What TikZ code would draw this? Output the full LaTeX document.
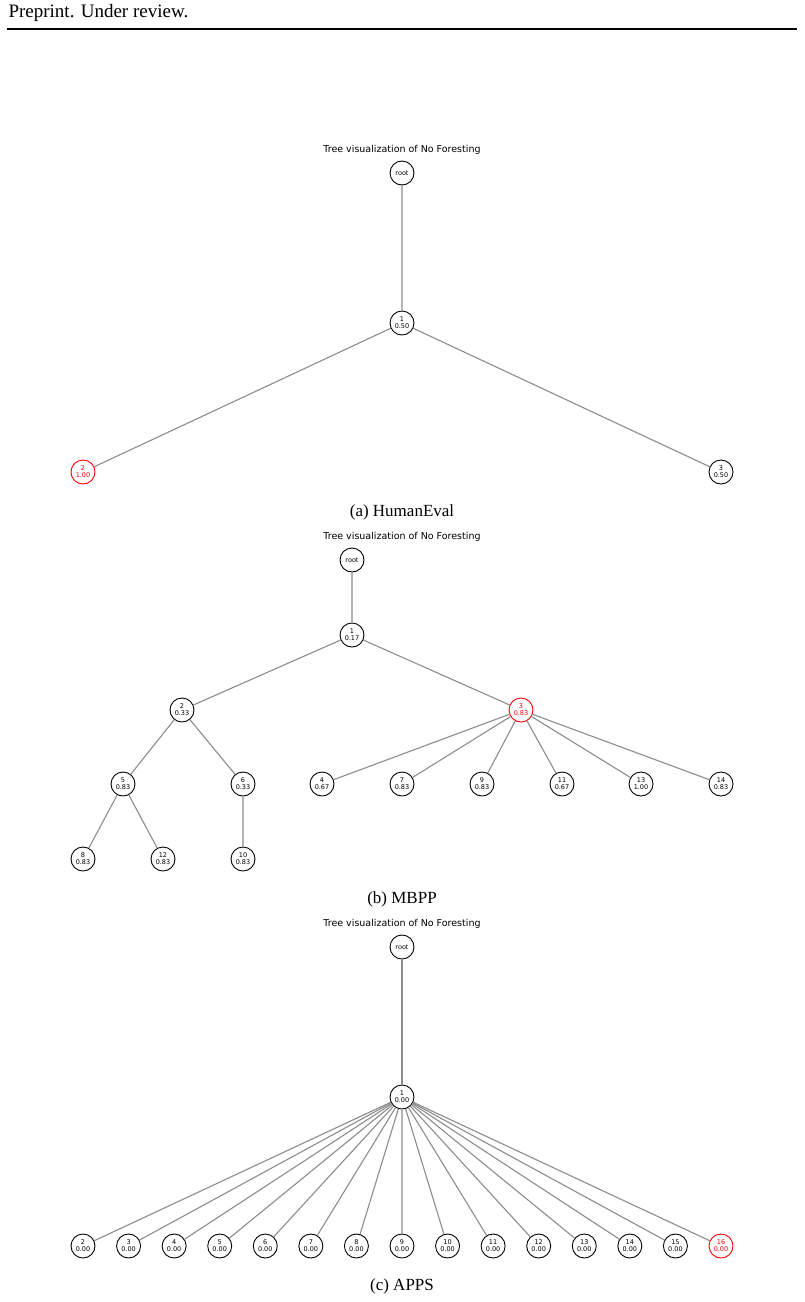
\documentclass[tikz,border=0pt]{standalone}
\usepackage{fontspec}
\setmainfont{Liberation Serif}
\newfontfamily\djv{DejaVu Sans}
\begin{document}
\begin{tikzpicture}[x=1pt,y=-1pt,
 nd/.style={circle,draw,line width=0.9pt,minimum size=24pt,inner sep=0pt,font=\djv\fontsize{6.5}{7}\selectfont,align=center},
 rd/.style={nd,draw=red,text=red},
 ed/.style={draw=gray!90,line width=1.1pt},
 ttl/.style={font=\djv\fontsize{9.5}{11}\selectfont},
 captext/.style={font=\fontsize{17}{20}\selectfont}]
\useasboundingbox (0,0) rectangle (804,1302);
\node[anchor=west,font=\fontsize{19}{22}\selectfont] (hdr) at (5,13) {Preprint. Under review.};
\draw[line width=2.6pt] (7,29) -- (797,29);
% (a)
\node[ttl] (ta) at (402,150) {Tree visualization of No Foresting};
\node[nd] (ar) at (402,173) {root};
\node[nd] (a1) at (402,323) {1\\0.50};
\node[rd] (a2) at (83,472) {2\\1.00};
\node[nd] (a3) at (721,472) {3\\0.50};
\draw[ed] (ar)--(a1) (a1)--(a2) (a1)--(a3);
\node[captext] (ca) at (402,512) {(a) HumanEval};
% (b)
\node[ttl] (tb) at (402,537) {Tree visualization of No Foresting};
\node[nd] (br) at (352,560) {root};
\node[nd] (b1) at (352,635) {1\\0.17};
\node[nd] (b2) at (182,710) {2\\0.33};
\node[rd] (b3) at (521,710) {3\\0.83};
\node[nd] (b5) at (123,784) {5\\0.83};
\node[nd] (b6) at (243,784) {6\\0.33};
\node[nd] (b4) at (322,784) {4\\0.67};
\node[nd] (b7) at (402,784) {7\\0.83};
\node[nd] (b9) at (482,784) {9\\0.83};
\node[nd] (b11) at (562,784) {11\\0.67};
\node[nd] (b13) at (641,784) {13\\1.00};
\node[nd] (b14) at (721,784) {14\\0.83};
\node[nd] (b8) at (83,859) {8\\0.83};
\node[nd] (b12) at (163,859) {12\\0.83};
\node[nd] (b10) at (243,859) {10\\0.83};
\draw[ed] (br)--(b1) (b1)--(b2) (b1)--(b3) (b2)--(b5) (b2)--(b6)
 (b3)--(b4) (b3)--(b7) (b3)--(b9) (b3)--(b11) (b3)--(b13) (b3)--(b14)
 (b5)--(b8) (b5)--(b12) (b6)--(b10);
\node[captext] (cb) at (402,899) {(b) MBPP};
% (c)
\node[ttl] (tc) at (402,924) {Tree visualization of No Foresting};
\node[nd] (cr) at (402,947) {root};
\node[nd] (c1) at (402,1097) {1\\0.00};
\draw[ed] (cr)--(c1);
\foreach \i in {2,...,15}{
 \node[nd] (c\i) at ({83+(\i-2)*45.57},1246) {\i\\0.00};
 \draw[ed] (c1)--(c\i);
}
\node[rd] (c16) at (721,1246) {16\\0.00};
\draw[ed] (c1)--(c16);
\node[captext] (cc) at (402,1286) {(c) APPS};
\end{tikzpicture}
\end{document}
